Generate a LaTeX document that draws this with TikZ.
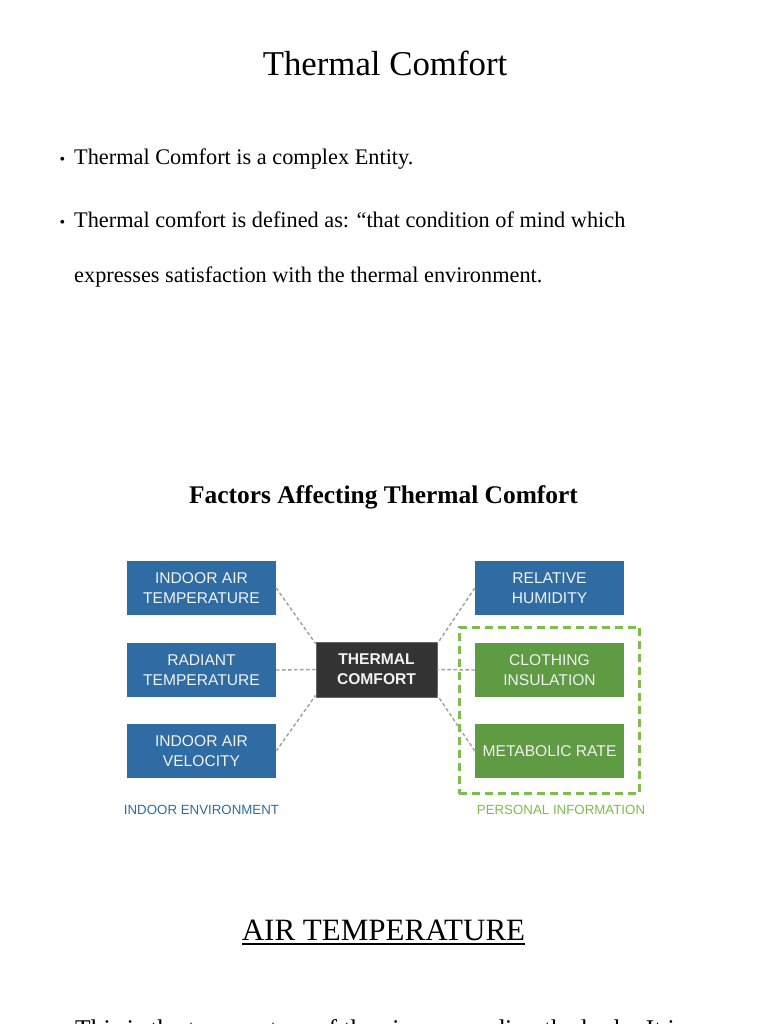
\documentclass[tikz,border=0pt]{standalone}
\usepackage{fontspec}
\setmainfont{Liberation Serif}
\setsansfont{Liberation Sans}
\usetikzlibrary{positioning}
\usetikzlibrary{fit}
\definecolor{envColor}{HTML}{2F6CA3}
\definecolor{persColor}{HTML}{5E9B43}
\definecolor{persLine}{HTML}{7DBE4B}
\definecolor{coreColor}{HTML}{333333}
\definecolor{linkColor}{HTML}{A0A0A0}

\begin{document}
\begin{tikzpicture}[
			x=1pt, y=-1pt,
			factor/.style={minimum width=149pt, minimum height=54pt, inner sep=0pt, align=center, text=white!95!black, font=\sffamily\fontsize{15.6}{20}\selectfont},
			env/.style={factor, fill=envColor},
			pers/.style={factor, fill=persColor},
			core/.style={factor, fill=coreColor, draw=gray!80!black, line width=0.8pt, minimum width=121pt, minimum height=55pt, font=\sffamily\bfseries\fontsize{15.6}{20}\selectfont},
			link/.style={draw=linkColor, line width=1.4pt, dash pattern=on 3.5pt off 2.5pt},
			grpbox/.style={draw=persLine, line width=2.5pt, dash pattern=on 8pt off 5pt, inner sep=15.5pt},
			grp/.style={anchor=base, font=\sffamily\fontsize{13.3}{16}\selectfont},
			body/.style={anchor=base west, inner sep=0pt, font=\fontsize{22.3}{26}\selectfont},
			dot/.style={anchor=base, inner sep=0pt, font=\fontsize{16}{18}\selectfont},
			]
			\path[use as bounding box, fill=white] (0,0) rectangle (768,1024);
			% page text
			\node[anchor=base, inner sep=0pt, font=\fontsize{34.8}{40}\selectfont] (title) at (385,76) {Thermal Comfort};
			\node[dot] (d1) at (62.5,165) {\textbullet};
			\node[body] (l1) at (74,165) {Thermal Comfort is a complex Entity.};
			\node[dot] (d2) at (62.5,228) {\textbullet};
			\node[body] (l2) at (74,228) {Thermal comfort is defined as: “that condition of mind which};
			\node[body] (l3) at (74,282) {expresses satisfaction with the thermal environment.};
			\node[anchor=base, inner sep=0pt, font=\bfseries\fontsize{25.4}{30}\selectfont] (head) at (383.5,503) {Factors Affecting Thermal Comfort};
			% factors
			\node[env] (iat) at (201.5,588) {INDOOR AIR\\TEMPERATURE};
			\node[env] (rt) at (201.5,670) {RADIANT\\TEMPERATURE};
			\node[env] (iav) at (201.5,751) {INDOOR AIR\\VELOCITY};
			\node[env] (rh) at (549.5,588) {RELATIVE\\HUMIDITY};
			\node[pers] (ci) at (549.5,670) {CLOTHING\\INSULATION};
			\node[pers] (mr) at (549.5,751) {METABOLIC RATE};
			\node[core] (tc) at (376.5,669.5) {THERMAL\\COMFORT};
			\foreach \s/\a in {iat/157,rt/180,iav/203} \draw[link] (\s.east) -- (tc.\a);
			\foreach \s/\a in {rh/23,ci/0,mr/-23} \draw[link] (\s.west) -- (tc.\a);
			\node[grpbox, fit=(ci)(mr)] (personal) {};
			\node[grp, text=envColor] (envlbl) at (201.5,814) {INDOOR ENVIRONMENT};
			\node[grp, text=persLine] (perslbl) at (561,814) {PERSONAL INFORMATION};
			% next section
			\node[anchor=base, inner sep=0pt, font=\fontsize{31}{36}\selectfont] (air) at (383.5,940) {AIR TEMPERATURE};
			\draw[line width=2pt] ([yshift=-4pt]air.base west) -- ([yshift=-4pt]air.base east);
			\node[body, font=\fontsize{25.5}{30}\selectfont] (l4) at (75,1037) {This is the temperature of the air surrounding the body. It is};
		\end{tikzpicture}
\end{document}
